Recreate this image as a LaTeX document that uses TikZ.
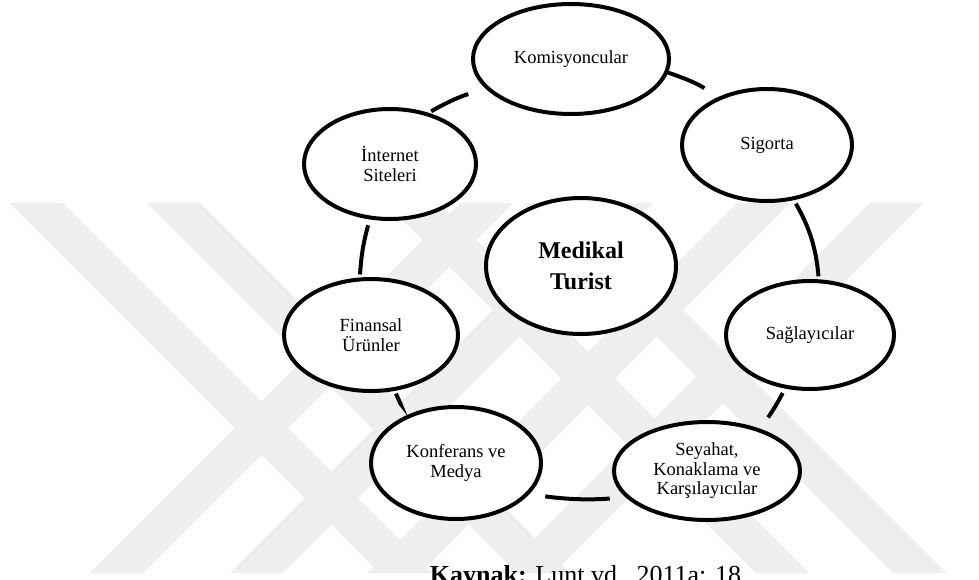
\documentclass[tikz,border=0pt]{standalone}
\usepackage{fontspec}
\setmainfont{Liberation Serif}
\usetikzlibrary{shapes.geometric}
\definecolor{wmgray}{RGB}{238,238,238}
\begin{document}
\begin{tikzpicture}[x=1pt,y=-1pt,
  bubble/.style={ellipse, draw=black, line width=4pt, fill=white, inner sep=0pt,
    align=center, font=\fontsize{18.5}{19.5}\selectfont},
  link/.style={draw=black, line width=4pt},
  wm/.style={fill=wmgray}]
\useasboundingbox (0,0) rectangle (979,579);
\clip (0,0) rectangle (979,579);
\fill[white] (0,0) rectangle (979,579);
% background pattern: falling bands (top x) and rising bands (bottom x)
\foreach \t in {10,147,386,523}
  \fill[wm] (\t,203) -- ++(53,0) -- ++(370,370) -- ++(-53,0) -- cycle;
\foreach \b in {90,230,367,500}
  \fill[wm] (\b,573) -- ++(53,0) -- ++(370,-370) -- ++(-53,0) -- cycle;
% cycle members
\node[bubble, minimum width=196pt, minimum height=110pt] (kom) at (571,59) {Komisyoncular};
\node[bubble, minimum width=170pt, minimum height=112pt] (sig) at (767,145) {Sigorta};
\node[bubble, minimum width=172pt, minimum height=110pt] (int) at (390,164) {İnternet\\Siteleri};
\node[bubble, minimum width=190pt, minimum height=136pt,
      font=\bfseries\fontsize{24}{31}\selectfont] (med) at (581,266) {Medikal\\Turist};
\node[bubble, minimum width=174pt, minimum height=112pt] (fin) at (371,335) {Finansal\\Ürünler};
\node[bubble, minimum width=168pt, minimum height=108pt] (sag) at (810,335) {Sağlayıcılar};
\node[bubble, minimum width=186pt, minimum height=98pt] (sey) at (707,471) {Seyahat,\\Konaklama ve\\Karşılayıcılar};
\node[bubble, minimum width=170pt, minimum height=112pt] (kon) at (456,463) {Konferans ve\\Medya};
% ring segments
\draw[link, shorten <=3pt, shorten >=19pt] (int.53) to[bend left=8] (kom.200);
\draw[link, shorten >=16pt] (kom.352) to[bend left=8] (sig.136);
\draw[link, shorten <=4pt, shorten >=3pt] (sig.296) to[bend left=12] (sag.81);
\draw[link, shorten <=5pt, shorten >=14pt] (sag.245) to[bend left=5] (sey.39);
\draw[link, shorten <=16pt, shorten >=16pt] (sey.198) to[bend left=6] (kon.337);
\draw[link, shorten <=15pt, shorten >=3pt] (kon.135) to[bend left=5] (fin.293);
\draw[link, shorten <=3pt, shorten >=6pt] (fin.101) to[bend left=6] (int.250);
% source line
\node[anchor=base, inner sep=0pt, font=\fontsize{26}{30}\selectfont] (src) at (585.5,583)
  {\textbf{Kaynak:} Lunt vd., 2011a: 18};
\end{tikzpicture}
\end{document}
